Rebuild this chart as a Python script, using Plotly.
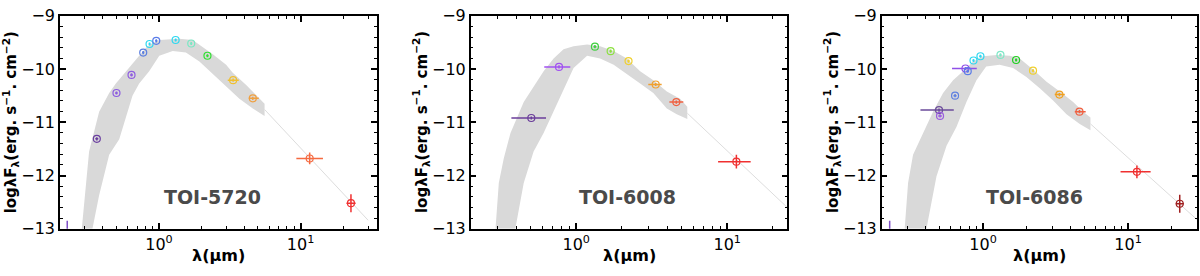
import math
import plotly.graph_objects as go

# ---------------- data ----------------
names = ["TOI-5720", "TOI-6008", "TOI-6086"]
x_ranges = [[0.2, 34.5], [0.2, 25.0], [0.2, 30.0]]

# TOI-5720 photometry
wl_1 = [0.225, 0.364, 0.501, 0.64, 0.774, 0.858, 0.957, 1.311, 1.69, 2.2, 3.34, 4.6, 11.6, 22.7]
wl_lo_1 = [0.225, 0.355, 0.49, 0.625, 0.76, 0.845, 0.94, 1.29, 1.66, 2.16, 3.06, 4.31, 9.34, 21.1]
wl_hi_1 = [0.225, 0.373, 0.512, 0.655, 0.788, 0.872, 0.975, 1.335, 1.72, 2.24, 3.66, 5.07, 14.4, 24.5]
f_1 = [-13.4, -11.31, -10.45, -10.11, -9.69, -9.53, -9.47, -9.455, -9.52, -9.75, -10.21, -10.55, -11.68, -12.52]
ferr_1 = [0.55, 0.03, 0.03, 0.03, 0.03, 0.03, 0.03, 0.03, 0.03, 0.03, 0.03, 0.03, 0.11, 0.17]
col_1 = ["#8050c8", "#6b3fa0", "#8c5ce0", "#8f5ee0", "#5b7fe0", "#2fd8f0", "#5a7ce8",
         "#30d8f0", "#7ae8c4", "#30e030", "#f0c030", "#f0a040", "#f56a40", "#f03030"]

# TOI-6008 photometry
wl_2 = [0.504, 0.769, 1.33, 1.69, 2.22, 3.36, 4.6, 11.5]
wl_lo_2 = [0.372, 0.614, 1.30, 1.66, 2.18, 3.0, 4.14, 8.7]
wl_hi_2 = [0.631, 0.913, 1.36, 1.72, 2.26, 3.68, 5.12, 14.3]
f_2 = [-10.92, -9.96, -9.58, -9.665, -9.85, -10.29, -10.62, -11.74]
ferr_2 = [0.03, 0.03, 0.03, 0.03, 0.03, 0.03, 0.03, 0.13]
col_2 = ["#6a3d9a", "#a050f0", "#40d040", "#8ce040", "#f0d030", "#f0a030", "#f06040", "#f03030"]

# TOI-6086 photometry
wl_3 = [0.227, 0.497, 0.505, 0.641, 0.756, 0.784, 0.859, 0.959, 1.318, 1.689, 2.21, 3.36, 4.62, 11.5, 22.7]
wl_lo_3 = [0.227, 0.37, 0.49, 0.625, 0.611, 0.765, 0.845, 0.94, 1.29, 1.66, 2.17, 3.12, 4.29, 8.87, 21.3]
wl_hi_3 = [0.227, 0.628, 0.52, 0.657, 0.905, 0.80, 0.873, 0.978, 1.345, 1.72, 2.25, 3.66, 5.1, 14.3, 24.2]
f_3 = [-13.4, -10.77, -10.88, -10.50, -9.99, -10.04, -9.84, -9.76, -9.735, -9.83, -10.03, -10.48, -10.80, -11.93, -12.53]
ferr_3 = [0.55, 0.03, 0.03, 0.03, 0.03, 0.03, 0.03, 0.03, 0.03, 0.03, 0.03, 0.03, 0.03, 0.12, 0.17]
col_3 = ["#8050c8", "#6a4a9a", "#9a5ce0", "#6080e0", "#9050e8", "#5a7ce8", "#30d8f0", "#30d8f0",
         "#80e8c8", "#20d020", "#f0d030", "#f0a020", "#f06040", "#f03030", "#a02020"]

# model spectrum envelopes
mod_up_wl_1 = [0.285, 0.307, 0.321, 0.378, 0.445, 0.496, 0.583, 0.65, 0.725, 0.809, 0.901, 1.005, 1.39, 1.73, 1.93, 2.40, 2.98, 3.32, 4.13, 4.86, 5.57]
mod_up_f_1 = [-13.0, -12.14, -11.55, -10.80, -10.45, -10.27, -10.04, -9.89, -9.75, -9.60, -9.51, -9.455, -9.43, -9.455, -9.54, -9.72, -9.92, -10.07, -10.30, -10.48, -10.65]
mod_lo_wl_1 = [0.339, 0.378, 0.445, 0.524, 0.65, 0.725, 0.853, 1.005, 1.25, 1.55, 1.93, 2.40, 2.98, 3.7, 4.6, 5.57]
mod_lo_f_1 = [-13.0, -12.37, -11.61, -11.32, -10.50, -10.27, -10.04, -9.75, -9.66, -9.69, -9.86, -10.10, -10.33, -10.56, -10.74, -10.88]
tail_wl_1 = [5.57, 30.0]
tail_f_1 = [-10.76, -12.84]

mod_up_wl_2 = [0.292, 0.307, 0.331, 0.367, 0.449, 0.522, 0.608, 0.708, 0.824, 0.96, 1.18, 1.44, 1.77, 2.16, 2.65, 3.24, 3.98, 4.87, 5.44]
mod_up_f_2 = [-13.0, -12.14, -11.68, -11.20, -10.62, -10.33, -10.04, -9.80, -9.63, -9.57, -9.54, -9.57, -9.66, -9.80, -10.04, -10.21, -10.42, -10.56, -10.71]
mod_lo_wl_2 = [0.395, 0.449, 0.522, 0.608, 0.708, 0.824, 0.96, 1.18, 1.44, 1.77, 2.16, 2.65, 3.24, 3.98, 4.63, 5.44]
mod_lo_f_2 = [-13.0, -12.14, -11.55, -11.20, -10.80, -10.39, -9.98, -9.75, -9.80, -9.92, -10.10, -10.27, -10.45, -10.74, -10.85, -10.94]
tail_wl_2 = [5.44, 25.0]
tail_f_2 = [-10.83, -12.6]

mod_up_wl_3 = [0.288, 0.304, 0.329, 0.386, 0.452, 0.53, 0.621, 0.728, 0.853, 1.0, 1.24, 1.53, 1.79, 2.21, 2.74, 3.38, 4.18, 4.9, 5.5]
mod_up_f_3 = [-13.0, -12.14, -11.61, -11.20, -10.80, -10.45, -10.21, -10.04, -9.86, -9.76, -9.735, -9.75, -9.80, -10.01, -10.24, -10.42, -10.62, -10.80, -10.91]
mod_lo_wl_3 = [0.407, 0.477, 0.56, 0.655, 0.768, 0.9, 1.05, 1.30, 1.61, 1.99, 2.46, 3.04, 3.76, 4.64, 5.5]
mod_lo_f_3 = [-13.0, -12.02, -11.44, -11.09, -10.62, -10.21, -9.95, -9.92, -9.98, -10.15, -10.36, -10.59, -10.85, -11.03, -11.15]
tail_wl_3 = [5.5, 29.9]
tail_f_3 = [-11.03, -12.83]

y_ticks = [-13, -12, -11, -10, -9]
y_ticktext = ["\u221213", "\u221212", "\u221211", "\u221210", "\u22129"]
x_ticks = [1, 10]
x_ticktext = ["10<sup>0</sup>", "10<sup>1</sup>"]

# ---------------- layout ----------------
W, H = 1200, 276
x_dom_px = [(60, 376.7), (470.7, 787.3), (881.7, 1197.3)]
y_dom = [(H - 236) / H, (H - 7.3) / H]
label_pos = [(212, 202), (627.5, 202), (1034.7, 202)]

panels = [
    (wl_1, wl_lo_1, wl_hi_1, f_1, ferr_1, col_1, mod_up_wl_1, mod_up_f_1, mod_lo_wl_1, mod_lo_f_1, tail_wl_1, tail_f_1),
    (wl_2, wl_lo_2, wl_hi_2, f_2, ferr_2, col_2, mod_up_wl_2, mod_up_f_2, mod_lo_wl_2, mod_lo_f_2, tail_wl_2, tail_f_2),
    (wl_3, wl_lo_3, wl_hi_3, f_3, ferr_3, col_3, mod_up_wl_3, mod_up_f_3, mod_lo_wl_3, mod_lo_f_3, tail_wl_3, tail_f_3),
]

fig = go.Figure()
FONT = "DejaVu Sans"
annotations = []
minor_x = [0.2, 0.3, 0.4, 0.5, 0.6, 0.7, 0.8, 0.9, 2, 3, 4, 5, 6, 7, 8, 9, 20, 30]

for i, (wl, lo, hi, f, fe, cols, uwl, uf, lwl, lf, twl, tf) in enumerate(panels):
    xa = "x" if i == 0 else f"x{i+1}"
    ya = "y" if i == 0 else f"y{i+1}"
    # model band
    fig.add_trace(go.Scatter(
        x=uwl + lwl[::-1], y=uf + lf[::-1], xaxis=xa, yaxis=ya,
        mode="lines", fill="toself", fillcolor="#d9d9d9",
        line=dict(width=0), hoverinfo="skip", showlegend=False))
    fig.add_trace(go.Scatter(
        x=twl, y=tf, xaxis=xa, yaxis=ya, mode="lines",
        line=dict(color="#dddddd", width=1), hoverinfo="skip", showlegend=False))
    # photometry
    for j in range(len(wl)):
        fig.add_trace(go.Scatter(
            x=[wl[j]], y=[f[j]], xaxis=xa, yaxis=ya, mode="markers",
            marker=dict(symbol="circle-open", size=7, color=cols[j], line=dict(width=1.2)),
            error_x=dict(type="data", symmetric=False, array=[hi[j] - wl[j]],
                         arrayminus=[wl[j] - lo[j]], color=cols[j], thickness=1.5, width=0),
            error_y=dict(type="data", array=[fe[j]], color=cols[j], thickness=1.5, width=0),
            showlegend=False))

    x0, x1 = x_dom_px[i]
    axis_common = dict(showline=True, linecolor="black", linewidth=1.5, mirror="allticks",
                       ticks="inside", ticklen=6, tickwidth=1.5, tickcolor="black",
                       showgrid=False, zeroline=False, ticklabeloverflow="allow",
                       tickfont=dict(family=FONT, size=16, color="black"))
    fig.update_layout({
        ("xaxis" if i == 0 else f"xaxis{i+1}"): dict(
            type="log", domain=[x0 / W, x1 / W], anchor=ya,
            range=[math.log10(x_ranges[i][0]), math.log10(x_ranges[i][1])],
            tickvals=x_ticks, ticktext=x_ticktext,
            minor=dict(ticks="inside", ticklen=3, tickwidth=1.2, tickcolor="black", tickvals=minor_x),
            **axis_common),
        ("yaxis" if i == 0 else f"yaxis{i+1}"): dict(
            domain=list(y_dom), anchor=xa, range=[-13, -9],
            tickvals=y_ticks, ticktext=y_ticktext,
            minor=dict(ticks="inside", ticklen=3, tickwidth=1.2, tickcolor="black", dtick=0.2, tick0=-13),
            **axis_common),
    })
    # titles
    annotations.append(dict(x=(x0 + x1) / 2 / W, y=(H - 265) / H, xref="paper", yref="paper",
                            xanchor="center", yanchor="middle",
                            text="<b>λ(μm)</b>", showarrow=False,
                            font=dict(family=FONT, size=16, color="black")))
    annotations.append(dict(x=(x0 - 50) / W, y=(H - 121.7) / H, xref="paper", yref="paper",
                            xanchor="center", yanchor="middle",
                            text="<b>logλF<sub>λ</sub>(erg. s<sup>−1</sup>. cm<sup>−2</sup>)</b>",
                            textangle=-90, showarrow=False,
                            font=dict(family=FONT, size=15, color="black")))
    lx, ly = label_pos[i]
    annotations.append(dict(x=lx / W, y=(H - ly) / H, xref="paper", yref="paper",
                            xanchor="center", yanchor="middle",
                            text=f"<b>{names[i]}</b>", showarrow=False,
                            font=dict(family=FONT, size=19, color="#4a4a4a")))

fig.update_layout(width=W, height=H, margin=dict(l=0, r=0, t=0, b=0),
                  paper_bgcolor="white", plot_bgcolor="white",
                  annotations=annotations, showlegend=False)

fig.write_html("out.html", config={"displayModeBar": False},
               post_script="document.body.style.margin='0px';document.body.style.overflow='hidden';")
